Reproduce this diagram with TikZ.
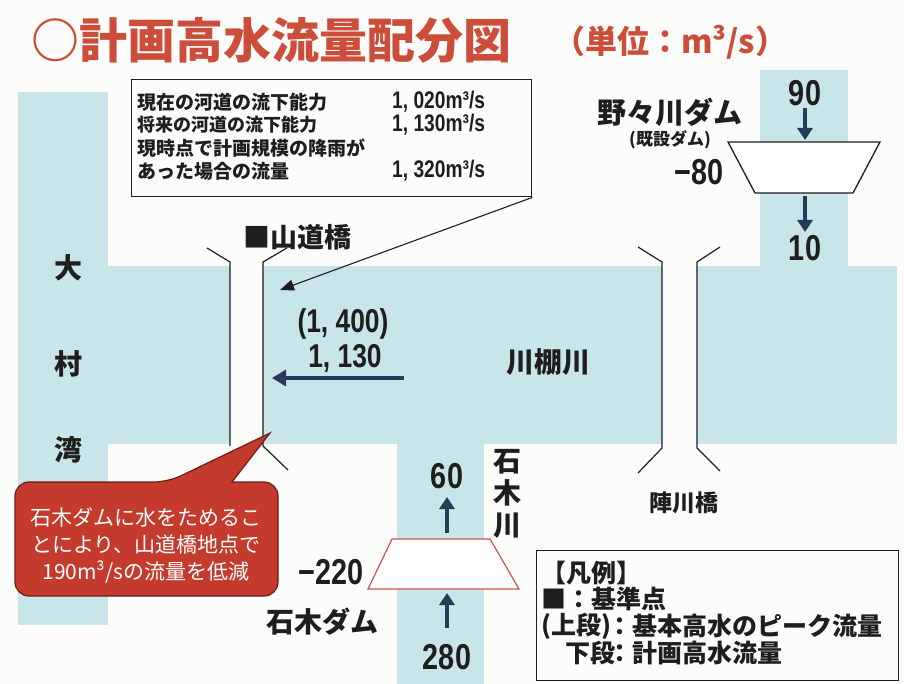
\documentclass[tikz,border=0pt]{standalone}
\usepackage{fontspec}
\setmainfont{Noto Sans CJK JP}
\newfontfamily\numfont[FakeStretch=0.8]{Liberation Sans}
\usetikzlibrary{arrows.meta}
\newcommand\fsz[1]{\fontsize{#1}{#1}\selectfont}
\definecolor{water}{RGB}{200,229,234}
\definecolor{titlered}{RGB}{204,78,58}
\definecolor{calloutred}{RGB}{196,58,44}
\definecolor{calloutedge}{RGB}{110,30,25}
\definecolor{ink}{RGB}{30,30,30}
\definecolor{arrowblue}{RGB}{40,58,90}
\definecolor{damred}{RGB}{205,80,80}
\definecolor{paper}{RGB}{252,252,250}
\begin{document}
\begin{tikzpicture}[x=1pt,y=-1pt,
  lbl/.style={inner sep=0pt, text=ink, font=\fsz{28}\bfseries},
  numlbl/.style={inner sep=0pt, text=ink, font=\numfont\fsz{36}\bfseries},
  boxtxt/.style={inner sep=0pt, anchor=west, text=ink, font=\fsz{19}\bfseries},
  boxnum/.style={inner sep=0pt, anchor=west, text=ink, font=\numfont\fsz{24}\bfseries},
  legtxt/.style={inner sep=0pt, anchor=west, text=ink, font=\fsz{25}\bfseries},
  bridge/.style={draw=ink, line width=1.2pt},
  flowarrow/.style={draw=arrowblue, line width=3.4pt, -{Triangle[length=14pt,width=16pt]}},
  smallarrow/.style={draw=arrowblue, line width=4pt, -{Triangle[length=12pt,width=15pt]}},
  infoarrow/.style={draw=ink, line width=1.1pt, -{Triangle[length=14pt,width=11pt]}},
  frame/.style={draw=ink, line width=1.4pt, inner sep=0pt}
]
\useasboundingbox (0,0) rectangle (904,684);
\fill[paper] (0,0) rectangle (904,684);

% water areas
\fill[water] (18,92) rectangle (108,625);
\fill[water] (18,266) rectangle (897,444);
\fill[water] (760,70) rectangle (848,266);
\fill[water] (397,444) rectangle (484,684);

% bridges (white channels and lines)
\fill[paper] (230,266) rectangle (263,444);
\fill[paper] (662,266) rectangle (697,444);
\draw[bridge] (207,248) -- (230,262) -- (230,446);
\draw[bridge] (287,248) -- (263,262) -- (263,446) -- (288,470);
\draw[bridge] (638,247) -- (662,262) -- (662,448) -- (638,473);
\draw[bridge] (720,247) -- (697,262) -- (697,448) -- (720,471);

% title
\node[inner sep=0pt, anchor=west, text=titlered, font=\fsz{48}\bfseries] (title) at (31,40) {○計画高水流量配分図};
\node[inner sep=0pt, anchor=west, text=titlered, font=\fsz{32}\bfseries] (unit) at (553,42) {（単位：m³/s）};

% info box
\node[frame, minimum width=400pt, minimum height=117pt, anchor=north west] (infobox) at (131,79) {};
\node[boxtxt] (i1) at (137,102) {現在の河道の流下能力};
\node[boxnum] (i1n) at (392,102) {1, 020m³/s};
\node[boxtxt, font=\fsz{18}\bfseries] (i2) at (137,125) {将来の河道の流下能力};
\node[boxnum] (i2n) at (392,125) {1, 130m³/s};
\node[boxtxt] (i3) at (137,148) {現時点で計画規模の降雨が};
\node[boxtxt] (i4) at (137,171) {あった場合の流量};
\node[boxnum] (i4n) at (392,171) {1, 320m³/s};
\coordinate (infotip) at (280,290);
\draw[infoarrow] (infobox.south east) -- (infotip);

% bay labels
\node[lbl] (oh) at (68,268) {大};
\node[lbl] (mura) at (68,364) {村};
\node[lbl] (wan) at (68,450) {湾};

% Yamamichi bridge
\node[lbl, anchor=west, font=\fsz{27}\bfseries] (yama) at (243,237) {■山道橋};
\node[numlbl, font=\numfont\fsz{33}\bfseries] (peak) at (343,324) {(1, 400)};
\node[numlbl, font=\numfont\fsz{33}\bfseries] (plan) at (345,359) {1, 130};
\coordinate (flowstart) at (404,378);
\coordinate (flowend) at (272,378);
\draw[flowarrow] (flowstart) -- (flowend);

\node[lbl] (kawatana) at (548,362) {川棚川};
\node[lbl, font=\fsz{23}\bfseries] (jinkawa) at (684,503) {陣川橋};

% Nonokawa dam
\node[lbl, font=\fsz{29}\bfseries] (nonodam) at (670,112) {野々川ダム};
\node[lbl, font=\fsz{17}\bfseries] (kisetsu) at (670,140) {(既設ダム)};
\draw[fill=white, draw=ink, line width=1.3pt] (728,142) -- (880,142) -- (853,193) -- (755,193) -- cycle;
\node[numlbl] (n90) at (805,93) {90};
\node[numlbl, anchor=east] (m80) at (724,172) {−80};
\node[numlbl] (n10) at (805,248) {10};
\coordinate (nonoin1) at (805,108);
\coordinate (nonoin2) at (805,140);
\coordinate (nonoout1) at (805,196);
\coordinate (nonoout2) at (805,232);
\draw[smallarrow] (nonoin1) -- (nonoin2);
\draw[smallarrow] (nonoout1) -- (nonoout2);

% Ishiki dam
\draw[fill=white, draw=damred, line width=1.2pt] (392,539) -- (490,539) -- (519,589) -- (368,589) -- cycle;
\node[numlbl] (n60) at (447,476) {60};
\node[numlbl] (n280) at (447,657) {280};
\node[numlbl, anchor=east] (m220) at (364,572) {−220};
\node[lbl] (ishikidam) at (322,622) {石木ダム};
\node[lbl, align=center, font=\fsz{28}\bfseries, execute at begin node=\setlength{\baselineskip}{32pt}] (ishikigawa) at (507,494) {石\\木\\川};
\coordinate (isin1) at (447,628);
\coordinate (isin2) at (447,593);
\coordinate (isout1) at (447,533);
\coordinate (isout2) at (447,497);
\draw[smallarrow] (isin1) -- (isin2);
\draw[smallarrow] (isout1) -- (isout2);

% callout
\draw[fill=calloutred, draw=calloutedge, line width=1.2pt, rounded corners=14pt]
  (15,482) -- (168,482) [sharp corners] -- (270,433) -- (232,482) [rounded corners=14pt] -- (278,482) -- (278,596) -- (15,596) -- cycle;
\node[inner sep=0pt, text=white, align=center, font=\fsz{21}, execute at begin node=\setlength{\baselineskip}{27pt}] (callouttext) at (146,545)
  {石木ダムに水をためるこ\\とにより、山道橋地点で\\190m³/sの流量を低減};

% legend
\node[frame, minimum width=362pt, minimum height=130pt, anchor=north west] (legend) at (536,550) {};
\node[legtxt] (l1) at (541,573) {【凡例】};
\node[legtxt] (l2) at (541,599) {■：基準点};
\node[legtxt] (l3a) at (541,626) {(上段)};
\node[legtxt] (l3b) at (607,626) {：基本高水のピーク流量};
\node[legtxt] (l4a) at (565,653) {下段};
\node[legtxt] (l4b) at (607,653) {：計画高水流量};
\end{tikzpicture}
\end{document}
